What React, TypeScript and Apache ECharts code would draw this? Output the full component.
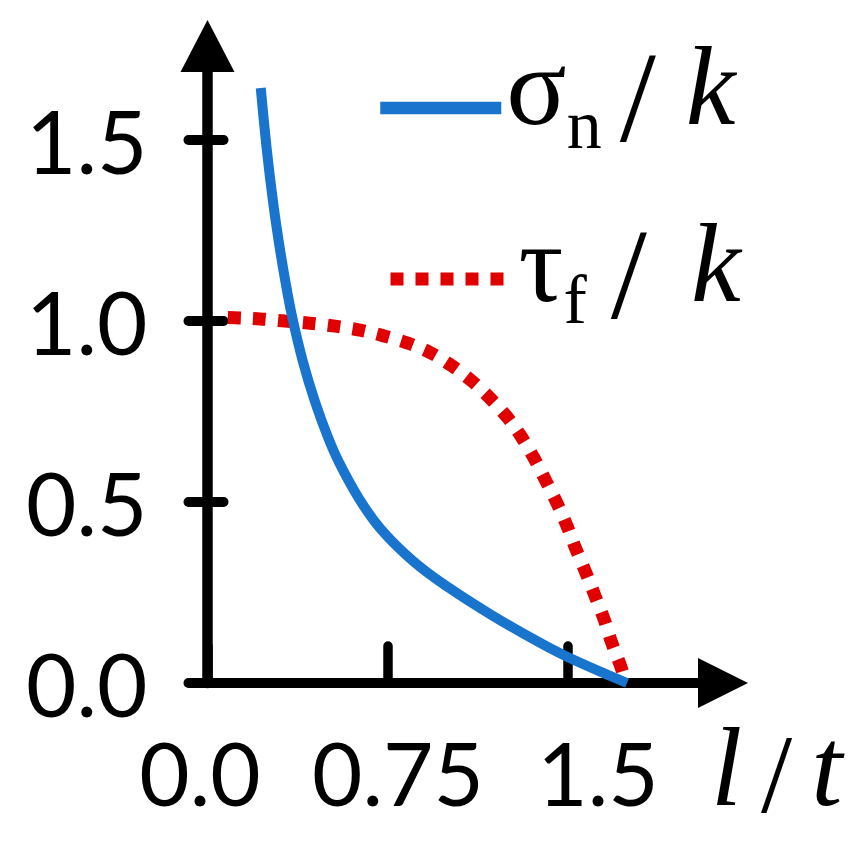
import React, { useEffect, useRef } from "react";
import * as echarts from "echarts";

const blueX = [0.222, 0.247, 0.273, 0.298, 0.323, 0.352, 0.398, 0.448, 0.502, 0.55, 0.63, 0.72, 0.855, 1.004, 1.183, 1.377, 1.5, 1.748];
const blueY = [1.644, 1.474, 1.33, 1.215, 1.115, 1.014, 0.887, 0.777, 0.679, 0.607, 0.511, 0.427, 0.338, 0.264, 0.188, 0.114, 0.072, 0.0];
const redX = [0.085, 0.219, 0.323, 0.427, 0.531, 0.635, 0.735, 0.835, 0.931, 1.019, 1.102, 1.177, 1.248, 1.306, 1.36, 1.41, 1.456, 1.498, 1.535, 1.577, 1.615, 1.652, 1.685, 1.723, 1.742];
const redY = [1.01, 1.006, 1.0, 0.994, 0.986, 0.975, 0.959, 0.939, 0.912, 0.876, 0.834, 0.787, 0.735, 0.682, 0.622, 0.558, 0.497, 0.434, 0.37, 0.304, 0.24, 0.177, 0.11, 0.044, 0.0];

const seriesNames = ["σn / k", "τf / k"];
const yTickValues = [0, 0.5, 1.0, 1.5];
const xTickValues = [0, 0.75, 1.5];
const xTickLabels = ["0.0", "0.75", "1.5"];
const xAxisName = "l / t";

const Y_MAX = 1.76;
const X_MAX = 2.148;
const BLUE = "#1874cd";
const RED = "#e00000";
const SERIF = "'Liberation Serif', 'Times New Roman', serif";
const SANS = "Lato, 'Open Sans', sans-serif";

export default function App() {
  const ref = useRef<HTMLDivElement>(null);
  useEffect(() => {
    if (!ref.current) return;
    const chart = echarts.init(ref.current, null, { renderer: "svg" });
    const blueData = blueX.map((x, i) => [x, blueY[i]]);
    const redData = redX.map((x, i) => [x, redY[i]]);

    // horizontal nudges of the x tick labels (padding in px)
    const labelPads: number[][] = [
      [0, 15, 0, 0],
      [0, 0, 0, 21],
      [0, 0, 0, 61],
    ];
    const xRich: any = {};
    xTickLabels.forEach((t, i) => {
      xRich["l" + i] = { fontFamily: SANS, fontSize: 87, lineHeight: 87, color: "#000", padding: labelPads[i] };
    });
    const xFmt = (v: number) => {
      const i = xTickValues.findIndex((t) => Math.abs(t - v) < 1e-9);
      return i >= 0 ? `{l${i}|${xTickLabels[i]}}` : "";
    };

    const legendRich1 = {
      g: { fontFamily: SERIF, fontSize: 112, lineHeight: 112, color: "#000", padding: [0, 0, 44, 0] },
      sub: { fontFamily: SERIF, fontSize: 70, lineHeight: 70, color: "#000", padding: [33, 0, 0, 0] },
      sl: { fontFamily: SERIF, fontSize: 130, lineHeight: 130, color: "#000", padding: [0, 0, 22, 18] },
      it: { fontFamily: SERIF, fontStyle: "italic", fontSize: 112, lineHeight: 112, color: "#000", padding: [0, 0, 44, 30] },
    };
    const legendRich2 = {
      g: { fontFamily: SERIF, fontSize: 112, lineHeight: 112, color: "#000", padding: [0, 0, 32, 10] },
      sub: { fontFamily: SERIF, fontSize: 70, lineHeight: 70, color: "#000", padding: [41, 0, 0, 0] },
      sl: { fontFamily: SERIF, fontSize: 130, lineHeight: 130, color: "#000", padding: [0, 0, 10, 24] },
      it: { fontFamily: SERIF, fontStyle: "italic", fontSize: 112, lineHeight: 112, color: "#000", padding: [0, 0, 32, 44] },
    };
    const legendFmt = (name: string) => {
      const main = name.charAt(0);
      const sub = name.charAt(1);
      const parts = name.slice(2).split("/").map((s) => s.trim());
      return `{g|${main}}{sub|${sub}}{sl|/}{it|${parts[1]}}`;
    };

    const nameParts = xAxisName.split("/").map((s) => s.trim());
    const lastIdx = xTickValues.length - 1;

    chart.setOption({
      animation: false,
      backgroundColor: "#fff",
      grid: { left: 207.5, right: 143, top: 46, bottom: 165, containLabel: false },
      legend: [
        {
          data: [seriesNames[0]],
          left: 374,
          top: 30,
          padding: 0,
          itemWidth: 121,
          itemHeight: 13,
          selectedMode: false,
          lineStyle: { width: 12.5 },
          formatter: legendFmt,
          textStyle: { rich: legendRich1 },
        },
        {
          data: [seriesNames[1]],
          left: 384,
          top: 207,
          padding: 0,
          itemWidth: 113,
          itemHeight: 13,
          selectedMode: false,
          lineStyle: { width: 13 },
          formatter: legendFmt,
          textStyle: { rich: legendRich2 },
        },
      ],
      xAxis: [
        {
          type: "value",
          min: 0,
          max: X_MAX,
          interval: 0.75,
          position: "bottom",
          name: `{a|${nameParts[0]}}{s|/}{b|${nameParts[1]}}`,
          nameLocation: "end",
          nameGap: -12,
          nameMoveOverlap: false,
          nameTextStyle: {
            align: "left",
            verticalAlign: "middle",
            rich: {
              a: { fontFamily: SERIF, fontStyle: "italic", fontSize: 112, lineHeight: 112, color: "#000", padding: [168, 0, 0, 0] },
              s: { fontFamily: SERIF, fontSize: 112, lineHeight: 112, color: "#000", padding: [182, 0, 0, 19] },
              b: { fontFamily: SERIF, fontStyle: "italic", fontSize: 112, lineHeight: 112, color: "#000", padding: [168, 0, 0, 19] },
            },
          },
          axisLine: {
            show: true,
            onZero: false,
            symbol: ["none", "triangle"],
            symbolSize: [50, 50],
            lineStyle: { color: "#000", width: 10 },
          },
          axisTick: {
            show: true,
            inside: true,
            length: 37,
            interval: 0,
            customValues: xTickValues,
            lineStyle: { color: "#000", width: 9.5, cap: "round" },
          },
          axisLabel: {
            show: true,
            margin: 46,
            interval: 0,
            hideOverlap: false,
            customValues: xTickValues.slice(0, lastIdx),
            formatter: xFmt,
            rich: xRich,
          },
          splitLine: { show: false },
        },
        {
          type: "value",
          min: 0,
          max: X_MAX,
          interval: 0.75,
          position: "bottom",
          offset: 0,
          axisLine: { show: false, onZero: false },
          axisTick: { show: false },
          axisLabel: {
            show: true,
            margin: 46,
            interval: 0,
            hideOverlap: false,
            customValues: xTickValues.slice(lastIdx),
            formatter: xFmt,
            rich: xRich,
          },
          splitLine: { show: false },
        },
      ],
      yAxis: [
        {
          type: "value",
          min: 0,
          max: Y_MAX,
          interval: 0.5,
          position: "left",
          axisLine: {
            show: true,
            onZero: false,
            symbol: ["none", "triangle"],
            symbolSize: [54, 52],
            lineStyle: { color: "#000", width: 10.5 },
          },
          axisTick: {
            show: true,
            inside: false,
            length: 19,
            interval: 0,
            customValues: yTickValues,
            lineStyle: { color: "#000", width: 10, cap: "round" },
          },
          axisLabel: {
            show: true,
            margin: 60,
            interval: 0,
            showMinLabel: true,
            showMaxLabel: true,
            customValues: yTickValues,
            fontFamily: SANS,
            fontSize: 87,
            color: "#000",
            formatter: (v: number) => v.toFixed(1),
          },
          splitLine: { show: false },
        },
        {
          type: "value",
          min: 0,
          max: Y_MAX,
          interval: 0.5,
          position: "left",
          axisLine: { show: false },
          axisTick: {
            show: true,
            inside: true,
            length: 16,
            interval: 0,
            customValues: yTickValues,
            lineStyle: { color: "#000", width: 10, cap: "round" },
          },
          axisLabel: { show: false },
          splitLine: { show: false },
        },
      ],
      series: [
        {
          name: seriesNames[0],
          type: "line",
          data: blueData,
          symbol: "none",
          smooth: 0.4,
          lineStyle: { color: BLUE, width: 10, cap: "butt" },
          itemStyle: { color: BLUE },
          z: 3,
        },
        {
          name: seriesNames[1],
          type: "line",
          data: redData,
          symbol: "none",
          smooth: 0.3,
          lineStyle: { color: RED, width: 13, type: [13, 12], cap: "butt" },
          itemStyle: { color: RED },
          z: 2,
        },
      ],
    });
    return () => chart.dispose();
  }, []);
  return (
    <div
      ref={ref}
      style={{ position: "absolute", left: 0, top: 0, width: 866, height: 848 }}
    />
  );
}
